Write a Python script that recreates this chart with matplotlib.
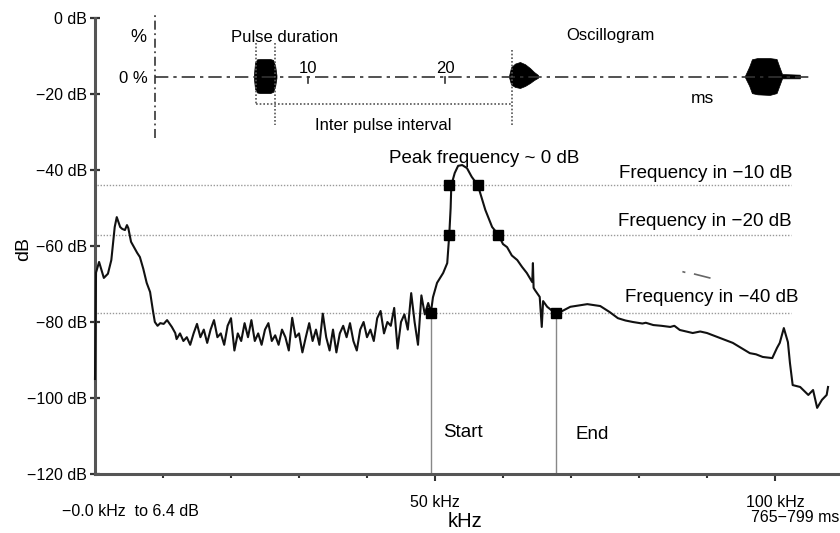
import matplotlib
matplotlib.use("Agg")
import matplotlib.pyplot as plt

plt.rcParams['font.family'] = ['Liberation Sans', 'DejaVu Sans']

# spectrum trace (kHz, dB)
spec_khz = [0.0, 0.15, 0.6, 1.3, 1.9, 2.4, 2.9, 3.2, 3.7, 4.0, 4.4, 4.7, 4.9, 5.3, 6.2, 6.6,
            7.1, 7.6, 8.1, 8.5, 8.8, 9.2, 9.6, 10.1, 10.6, 11.3, 11.8,
            12.0, 12.5, 13.0, 13.5, 14.0, 14.5, 15.0, 15.5, 16.0, 16.5, 17.0, 17.5, 18.0, 18.5,
            19.0, 19.5, 20.0, 20.5, 21.0, 21.5, 22.0, 22.5, 23.0, 23.5, 24.0, 24.5, 25.0, 25.5,
            26.0, 26.5, 27.0, 27.5, 28.0, 28.5, 29.0, 29.5, 30.0, 30.5, 31.0, 31.5, 32.0, 32.5,
            33.0, 33.5, 34.0, 34.5, 35.0, 35.5, 36.0, 36.5, 37.0, 37.5, 38.0, 38.5, 39.0, 39.5,
            40.0, 40.5, 41.0, 41.5, 42.0, 42.5, 43.0, 43.5, 44.0, 44.5, 45.0, 45.5, 46.0, 46.5,
            47.0, 47.5, 48.0, 48.5, 49.0, 49.4,
            49.7, 50.3, 51.2, 51.8, 52.1, 52.3, 52.4, 52.9, 53.4, 54.0, 54.7, 55.4, 56.3, 57.4,
            58.4, 59.3, 60.0, 60.6, 61.3, 62.1, 62.8, 63.5, 64.3, 64.4, 64.5, 64.7, 65.4, 65.7,
            65.9, 66.5, 67.2, 67.8, 68.4, 69.9, 72.4, 74.3, 75.7, 76.9, 78.0, 79.1, 80.5, 81.0,
            82.1, 83.3, 84.6, 85.2, 86.0, 87.9, 89.0, 90.0, 91.9, 92.8, 93.8, 95.0, 96.3, 97.2,
            98.2, 99.6, 100.3, 100.7, 101.3, 101.9, 102.2, 102.6, 103.7, 104.9, 105.6, 106.2,
            106.9, 107.6, 107.8]
spec_db = [-95, -67, -64.2, -68.4, -67.3, -63.7, -55, -52.4, -55, -55.5, -55.8, -54.5, -55.3, -58.9,
           -61.8, -62.9, -66, -69.7, -72.1, -76.8, -80, -81, -80.3, -80.5, -79.5, -81.3, -82.9,
           -84.5, -83, -85, -84, -86, -83, -80.5, -84, -82, -85.5, -82, -79.5, -84, -83,
           -86, -81, -79, -87.5, -83, -85, -80.3, -84, -79.5, -85, -83, -86, -82, -80.3,
           -85, -83.5, -86, -82, -84, -87.5, -78.9, -84, -83, -88, -84, -80.3, -85, -82,
           -86, -77.8, -84, -87.5, -82, -88, -83, -81, -84, -80.3, -85, -87.5, -82, -80,
           -84, -82, -85, -79, -77.1, -83, -80, -81, -76.3, -87, -80, -78, -82, -72.4,
           -80, -86, -73, -78, -75, -77.5,
           -73.5, -69.7, -67.1, -64.5, -57, -50, -44, -40.8, -38.9, -38.7, -39.5, -41.8, -44, -50.5,
           -55, -57, -59.5, -60.3, -62.5, -63.7, -65.5, -67.1, -69.5, -64.5, -71, -71.6, -73.4, -81.3,
           -74.5, -76, -77, -77.5, -77.4, -76, -75.3, -75.8, -77.4, -79, -79.6, -80, -80.4, -80.2,
           -80.8, -81, -81.3, -81, -82.1, -82.9, -82.5, -82.9, -84.2, -84.8, -85.5, -86.8, -88.2, -88.5,
           -89.2, -89.5, -86.8, -85.5, -81.6, -85.3, -90.8, -96.6, -97.1, -99.2, -97.9, -102.6,
           -100.5, -99.2, -97.1]

# reference levels and the points marked on the trace
level_db = [-44, -57, -77.5]
level_names = ['Frequency in \u221210 dB', 'Frequency in \u221220 dB', 'Frequency in \u221240 dB']
marker_khz = [52.1, 56.3, 52.1, 59.3, 49.4, 67.8]
marker_db = [-44, -44, -57, -57, -77.5, -77.5]
start_khz = 49.4
end_khz = 67.8

ytick_vals = [0, -20, -40, -60, -80, -100, -120]
ytick_labels = ['0 dB', '\u221220 dB', '\u221240 dB', '\u221260 dB', '\u221280 dB', '\u2212100 dB', '\u2212120 dB']
xtick_major = [50, 100]
xtick_major_labels = ['50 kHz', '100 kHz']
xtick_minor = [10, 20, 30, 40, 60, 70, 80, 90]

# oscillogram pulse envelopes (ms, % amplitude)
p1_ms = [6.05, 6.13, 6.28, 6.5, 7.0, 7.23, 7.45, 7.6, 7.7]
p1_hi = [3, 22, 28, 28.5, 28.5, 28.5, 27, 18, 2]
p1_lo = [-3, -20, -26, -27, -27, -27, -25, -16, -2]
p2_ms = [24.67, 24.82, 25.11, 25.47, 25.84, 26.2, 26.5, 26.79]
p2_hi = [1, 15, 21, 23.6, 20, 13.8, 7.3, 2.4]
p2_lo = [-1, -13, -17, -18.7, -15.4, -10.6, -5.7, -2]
p3_ms = [41.9, 42.2, 42.4, 42.8, 43.7, 44.2, 44.4, 44.6, 45.9]
p3_hi = [1.5, 16, 28, 30, 30, 28.5, 16, 4, 3]
p3_lo = [-1.5, -15, -27, -29, -30, -27, -15, -3, -3]
osc_ticks = [10, 20]


def fx(px):
    return px / 840.0


def fy(py):
    return 1 - py / 533.0


fig = plt.figure(figsize=(8.4, 5.33), dpi=100)
ax = fig.add_axes([fx(95), fy(474), fx(840) - fx(95), fy(18) - fy(474)])
ax.patch.set_alpha(0)
ax.set_xlim(0, 109.56)
ax.set_ylim(-120, 0)

for s in ['top', 'right']:
    ax.spines[s].set_visible(False)
for s in ['left', 'bottom']:
    ax.spines[s].set_color('#555555')
    ax.spines[s].set_linewidth(2.2)

ax.set_yticks(ytick_vals)
ax.set_yticklabels(ytick_labels)
ax.tick_params(axis='y', direction='inout', length=7, width=1.6, color='#333333',
               labelsize=11.5, pad=2)
ax.set_xticks(xtick_major)
ax.set_xticklabels(xtick_major_labels)
ax.set_xticks(xtick_minor, minor=True)
ax.tick_params(axis='x', which='major', direction='out', length=5, width=1.5,
               color='#333333', labelsize=11.5, pad=10)
ax.tick_params(axis='x', which='minor', direction='out', length=3, width=1.5, color='#333333')

# reference dotted lines
for lv in level_db:
    ax.plot([0.3, 102.4], [lv, lv], color='#999999', lw=1.0, ls=(0, (1, 1.2)), zorder=1)

# start / end lines
ax.plot([start_khz, start_khz], [-77.5, -120], color='#888888', lw=1.0, zorder=1)
ax.plot([end_khz, end_khz], [-77.5, -120], color='#888888', lw=1.0, zorder=1)

ax.plot(spec_khz, spec_db, color='#111111', lw=1.5, zorder=3, clip_on=False)
ax.plot(marker_khz, marker_db, ls='none', marker='s', ms=6.5, color='black', zorder=4)

# small stray marks
ax.plot([86.5, 86.7], [-66.8, -66.9], color='#666666', lw=1.2)
ax.plot([88.2, 90.4], [-67.4, -68.4], color='#666666', lw=1.2)

ax.text(57.2, -38.2, 'Peak frequency ~ 0 dB', ha='center', va='baseline', fontsize=13.5)
ax.text(102.6, -42.1, level_names[0], ha='right', va='baseline', fontsize=13.5)
ax.text(102.5, -54.7, level_names[1], ha='right', va='baseline', fontsize=13.5)
ax.text(103.4, -74.7, level_names[2], ha='right', va='baseline', fontsize=13.5)
ax.text(51.2, -110.3, 'Start', ha='left', va='baseline', fontsize=13.5)
ax.text(70.7, -110.8, 'End', ha='left', va='baseline', fontsize=13.5)

fig.text(fx(62), fy(516), '\u22120.0 kHz  to 6.4 dB', ha='left', va='baseline', fontsize=11.5)
fig.text(fx(839), fy(522), '765\u2212799 ms', ha='right', va='baseline', fontsize=11.5)
fig.text(fx(465), fy(527), 'kHz', ha='center', va='baseline', fontsize=14.5)
fig.text(fx(24), fy(249), 'dB', ha='center', va='center', rotation=90, fontsize=14)

# oscillogram inset
ax2 = fig.add_axes([fx(155), fy(138), fx(820) - fx(155), fy(15) - fy(138)])
ax2.set_xlim(-1.168, 47.37)
ax2.set_ylim(-100, 100)
ax2.axis('off')
ax2.patch.set_alpha(0)

ax2.plot([-1.168, -1.168], [-100, 100], color='#444444', lw=1.3, ls=(0, (5, 2, 1, 2)),
         clip_on=False)
ax2.plot([-1.168, 46.7], [0, 0], color='#333333', lw=1.2, ls=(0, (8, 3, 2, 3)))
for t in osc_ticks:
    ax2.plot([t, t], [0, -11], color='#333333', lw=1.2)
    ax2.text(t, 5.7, str(t), ha='center', va='baseline', fontsize=12)

ax2.fill_between(p1_ms, p1_lo, p1_hi, color='black', lw=0.5)
ax2.fill_between(p2_ms, p2_lo, p2_hi, color='black', lw=0.5)
ax2.fill_between(p3_ms, p3_lo, p3_hi, color='black', lw=0.5)

dot = dict(color='#555555', lw=1.2, ls=(0, (1, 1.2)))
ax2.plot([6.2, 6.2], [54.5, -46.3], **dot)
ax2.plot([7.6, 7.6], [54.5, -78.9], **dot)
ax2.plot([24.9, 24.9], [43, -82], **dot)
ax2.plot([6.2, 24.9], [-44.7, -44.7], **dot)

ax2.text(8.3, 56, 'Pulse duration', ha='center', va='baseline', fontsize=12)
ax2.text(15.5, -87, 'Inter pulse interval', ha='center', va='baseline', fontsize=12)
ax2.text(32.1, 59.3, 'Oscillogram', ha='center', va='baseline', fontsize=12)
ax2.text(38.8, -43, 'ms', ha='center', va='baseline', fontsize=12.5)
ax2.text(-3.0, 56, '%', ha='left', va='baseline', fontsize=13, clip_on=False)
ax2.text(-1.7, -10.6, '0 %', ha='right', va='baseline', fontsize=12, clip_on=False)

fig.savefig('out.png', dpi=100)
